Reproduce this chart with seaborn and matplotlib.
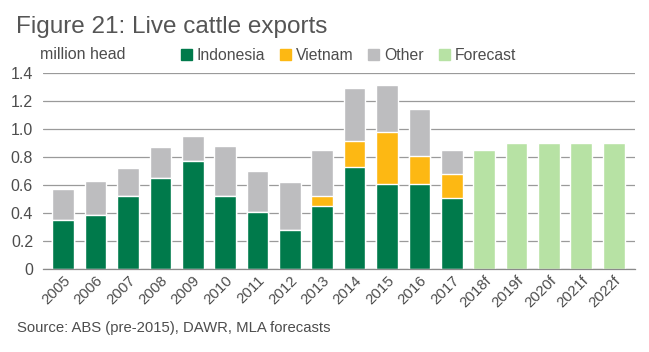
import numpy as np
import pandas as pd
import matplotlib.pyplot as plt
import seaborn as sns
from matplotlib.patches import Patch

# values (million head)
years = ["2005", "2006", "2007", "2008", "2009", "2010", "2011", "2012", "2013",
         "2014", "2015", "2016", "2017"]
forecast_years = ["2018f", "2019f", "2020f", "2021f", "2022f"]
indonesia = [0.35, 0.39, 0.52, 0.65, 0.77, 0.52, 0.41, 0.28, 0.45, 0.73, 0.61, 0.61, 0.51]
vietnam = [0, 0, 0, 0, 0, 0, 0, 0, 0.07, 0.18, 0.37, 0.20, 0.17]
other = [0.22, 0.24, 0.20, 0.22, 0.18, 0.36, 0.29, 0.34, 0.33, 0.38, 0.33, 0.33, 0.17]
forecast = [0.85, 0.90, 0.90, 0.90, 0.90]

all_years = years + forecast_years

hist = pd.DataFrame({"year": years, "Indonesia": indonesia, "Vietnam": vietnam, "Other": other})
hist["ind_viet"] = hist["Indonesia"] + hist["Vietnam"]
hist["total"] = hist["ind_viet"] + hist["Other"]
fc = pd.DataFrame({"year": forecast_years, "Forecast": forecast})

c_ind = "#007A4B"
c_viet = "#FDB813"
c_oth = "#BDBDBF"
c_fc = "#B7E2A4"
txt = "#4d4d4d"

sns.set_style("white")
plt.rcParams["font.family"] = ["Liberation Sans", "DejaVu Sans"]

fig = plt.figure(figsize=(6.49, 3.52), dpi=100)
ax = fig.add_axes([0.066, 0.235, 0.912, 0.5585])

# stacked bars drawn back to front
sns.barplot(data=hist, x="year", y="total", order=all_years, color=c_oth, saturation=1, width=0.67, ax=ax)
sns.barplot(data=hist, x="year", y="ind_viet", order=all_years, color=c_viet, saturation=1, width=0.67, ax=ax)
sns.barplot(data=hist, x="year", y="Indonesia", order=all_years, color=c_ind, saturation=1, width=0.67, ax=ax)
sns.barplot(data=fc, x="year", y="Forecast", order=all_years, color=c_fc, saturation=1, width=0.67, ax=ax)

ax.set_xlim(-0.63, 17.65)
ax.set_ylim(0, 1.4)
ax.set_yticks(np.arange(0, 1.41, 0.2))
ax.set_yticklabels(["0"] + ["%.1f" % v for v in np.arange(0.2, 1.41, 0.2)])
ax.set_xlabel("")
ax.set_ylabel("")
ax.yaxis.grid(True, color="#9a9a9a", linewidth=0.9)
ax.set_axisbelow(True)
for s in ["top", "right", "left"]:
    ax.spines[s].set_visible(False)
ax.spines["bottom"].set_color("#8a8a8a")
ax.spines["bottom"].set_linewidth(0.9)

ax.tick_params(axis="y", length=5, width=0.9, color="#9a9a9a", labelsize=11.5, labelcolor=txt, pad=2)
ax.tick_params(axis="x", length=0, labelsize=10.8, labelcolor=txt, pad=3)
plt.setp(ax.get_xticklabels(), rotation=45, ha="right", rotation_mode="anchor")

fig.text(0.025, 0.905, "Figure 21: Live cattle exports", fontsize=17.5, color="#555555", va="baseline")
fig.text(0.062, 0.832, "million head", fontsize=11.5, color=txt, va="baseline")
fig.text(0.026, 0.058, "Source: ABS (pre-2015), DAWR, MLA forecasts", fontsize=10.7, color=txt, va="baseline")

handles = [Patch(color=c_ind), Patch(color=c_viet), Patch(color=c_oth), Patch(color=c_fc)]
fig.legend(handles, ["Indonesia", "Vietnam", "Other", "Forecast"], ncol=4, frameon=False,
           loc="center left", bbox_to_anchor=(0.267, 0.843), fontsize=11.3,
           handlelength=0.7, handleheight=0.7, handletextpad=0.3, columnspacing=0.95,
           labelcolor=txt, borderpad=0)

fig.savefig("out.png", dpi=100)
